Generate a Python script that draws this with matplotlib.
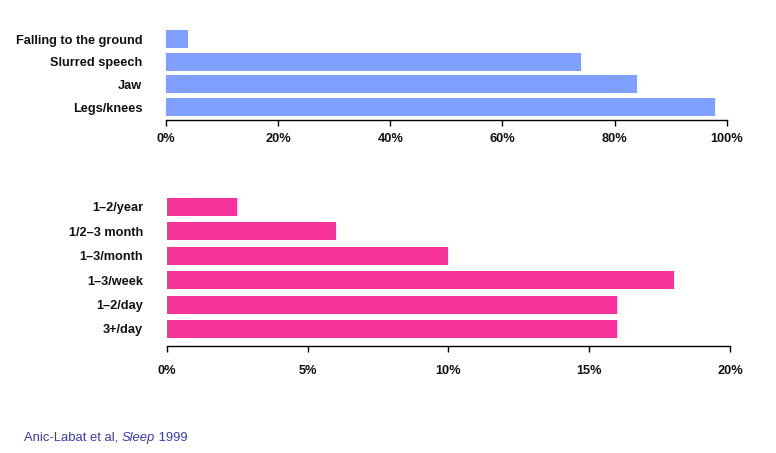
import matplotlib
matplotlib.use("Agg")
import matplotlib.pyplot as plt
from matplotlib.ticker import FuncFormatter

plt.rcParams['font.family'] = ['Liberation Sans', 'DejaVu Sans']

sites = ["Falling to the ground", "Slurred speech", "Jaw", "Legs/knees"]
site_pct = [4, 74, 84, 98]
site_ticks = [0, 20, 40, 60, 80, 100]

freqs = ["1\u20132/year", "1/2\u20133 month", "1\u20133/month", "1\u20133/week", "1\u20132/day", "3+/day"]
freq_pct = [2.5, 6, 10, 18, 16, 16]
freq_ticks = [0, 5, 10, 15, 20]

W, H = 776, 453
fig = plt.figure(figsize=(W / 100, H / 100), dpi=100)


def fx(px):
    return px / W


def fy(py):
    return 1 - py / H


pct = FuncFormatter(lambda v, p: f"{v:g}%")


def style(ax, ticks, lim, label_pad):
    ax.set_xlim(0, lim)
    ax.set_xticks(ticks)
    ax.xaxis.set_major_formatter(pct)
    for s in ("top", "right", "left"):
        ax.spines[s].set_visible(False)
    ax.spines["bottom"].set_linewidth(1.0)
    ax.tick_params(axis="y", length=0, pad=17)
    ax.tick_params(axis="x", length=4, width=1, direction="out", pad=label_pad)
    for t in ax.get_xticklabels() + ax.get_yticklabels():
        t.set_fontweight("bold")
        t.set_fontsize(9.2)
        t.set_color("#111111")


# top chart
ax1 = fig.add_axes([fx(166), fy(120), fx(726.7 - 166), fy(30) - fy(120)])
ax1.barh(range(len(sites)), site_pct, height=0.79, color="#80A0FF")
ax1.set_yticks(range(len(sites)))
ax1.set_yticklabels(sites)
style(ax1, site_ticks, 100, 5)
ax1.set_ylim(len(sites) - 1 + 0.57, -0.4)

# bottom chart
ax2 = fig.add_axes([fx(166.7), fy(346), fx(730 - 166.7), fy(195) - fy(346)])
ax2.barh(range(len(freqs)), freq_pct, height=0.74, color="#F73298")
ax2.set_yticks(range(len(freqs)))
ax2.set_yticklabels(freqs)
style(ax2, freq_ticks, 20, 10)
ax2.set_ylim(len(freqs) - 1 + 0.70, -0.49)

# citation
cite_color = "#3A3AB0"
cite_size = 9.4
fig.canvas.draw()
r = fig.canvas.get_renderer()
t1 = fig.text(fx(24), fy(438), "Anic-Labat et al, ", color=cite_color, fontsize=cite_size, va="center", ha="left")
bb = t1.get_window_extent(r)
t2 = fig.text(bb.x1 / W, fy(438), "Sleep", color=cite_color, fontsize=cite_size, va="center", ha="left", style="italic")
bb2 = t2.get_window_extent(r)
fig.text(bb2.x1 / W, fy(438), " 1999", color=cite_color, fontsize=cite_size, va="center", ha="left")

fig.savefig("out.png", dpi=100)
